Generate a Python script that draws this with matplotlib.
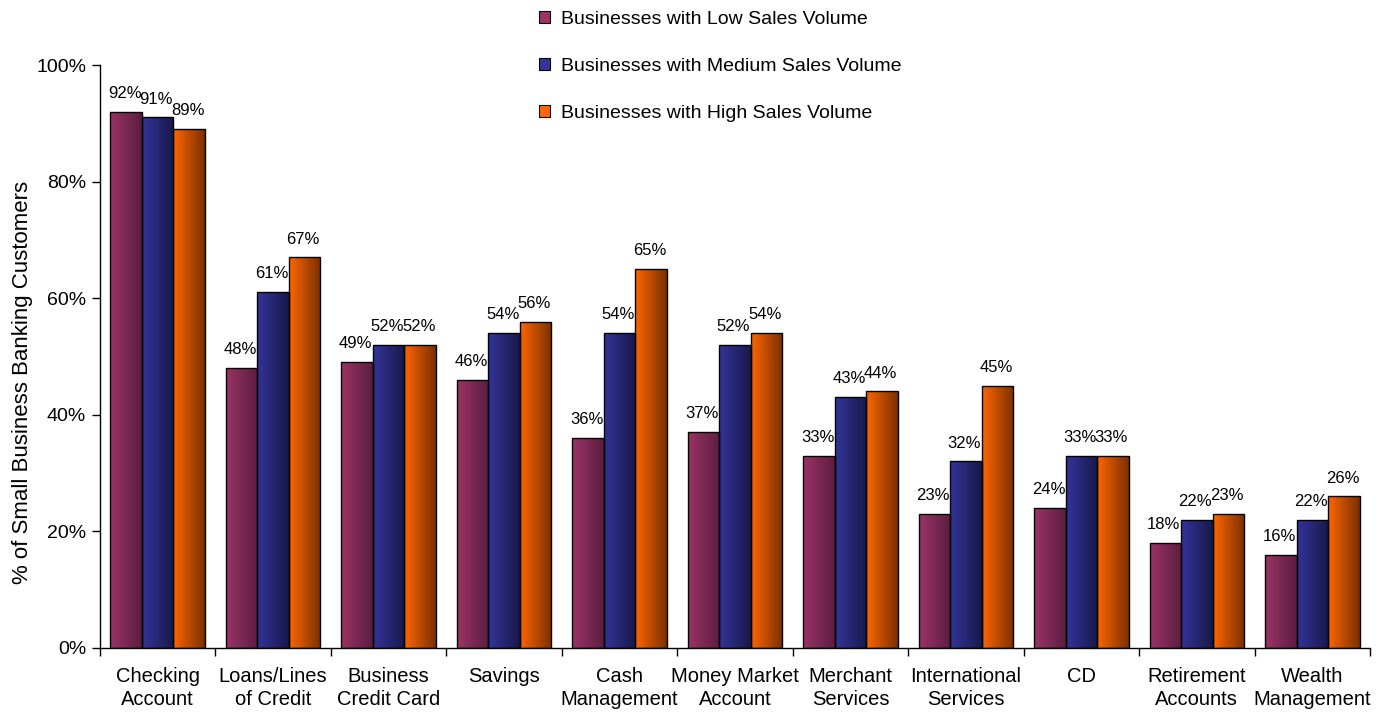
import numpy as np
import matplotlib
matplotlib.use("Agg")
import matplotlib.pyplot as plt
from matplotlib.colors import LinearSegmentedColormap
from matplotlib.patches import Patch
from matplotlib.ticker import PercentFormatter

plt.rcParams['font.family'] = ['Liberation Sans', 'DejaVu Sans']

categories = [
    "Checking\nAccount", "Loans/Lines\nof Credit", "Business\nCredit Card",
    "Savings", "Cash\nManagement", "Money Market\nAccount", "Merchant\nServices",
    "International\nServices", "CD", "Retirement\nAccounts", "Wealth\nManagement",
]
series_names = [
    "Businesses with Low Sales Volume",
    "Businesses with Medium Sales Volume",
    "Businesses with High Sales Volume",
]
low_volume = [92, 48, 49, 46, 36, 37, 33, 23, 24, 18, 16]
medium_volume = [91, 61, 52, 54, 54, 52, 43, 32, 33, 22, 22]
high_volume = [89, 67, 52, 56, 65, 54, 44, 45, 33, 23, 26]
y_label = "% of Small Business Banking Customers"

light_colors = ["#9b3466", "#34349a", "#ff6600"]
dark_colors = ["#5c1d40", "#18184a", "#7a3000"]

W, H = 1383, 713
fig = plt.figure(figsize=(W / 100, H / 100), dpi=100)
ax = fig.add_axes([100 / W, 65 / H, 1270 / W, 583 / H])

x = np.arange(len(categories))
bar_w = 0.273
ramp = np.linspace(0, 1, 256).reshape(1, -1)

for i, vals in enumerate([low_volume, medium_volume, high_volume]):
    pos = x + (i - 1) * bar_w
    bars = ax.bar(pos, vals, bar_w, facecolor="none", edgecolor="black",
                  linewidth=1.0, zorder=3)
    cmap = LinearSegmentedColormap.from_list(f"shade{i}", [light_colors[i], dark_colors[i]])
    for b in bars:
        bx, by, bw, bh = b.get_x(), b.get_y(), b.get_width(), b.get_height()
        im = ax.imshow(ramp, cmap=cmap, extent=[bx, bx + bw, by, by + bh],
                       aspect="auto", interpolation="bilinear", zorder=2)
        im.set_clip_path(b)
    for p, v in zip(pos, vals):
        ax.annotate(f"{v}%", (p, v), xytext=(-1, 10), textcoords="offset points",
                    ha="center", va="baseline", fontsize=12, color="black", zorder=4)

ax.set_xlim(-0.5, len(categories) - 0.5)
ax.set_ylim(0, 100)
ax.set_yticks(np.arange(0, 101, 20))
ax.yaxis.set_major_formatter(PercentFormatter(100, decimals=0))
ax.set_xticks(x)
ax.set_xticklabels(categories, fontsize=14.5, linespacing=1.25)
ax.set_xticks(np.arange(-0.5, len(categories), 1.0), minor=True)
ax.tick_params(axis="x", which="major", length=0, pad=14)
ax.tick_params(axis="x", which="minor", length=6, width=1, direction="out")
ax.tick_params(axis="y", length=6, width=1, direction="out", pad=4, labelsize=14)

for side in ("top", "right"):
    ax.spines[side].set_visible(False)
for side in ("left", "bottom"):
    ax.spines[side].set_linewidth(1.0)

ax.set_ylabel(y_label, fontsize=16)
ax.yaxis.set_label_coords(-0.053, 0.456)

handles = [Patch(facecolor=light_colors[i], edgecolor="black", linewidth=0.8)
           for i in range(3)]
fig.legend(handles, series_names, loc="upper left",
           bbox_to_anchor=(531 / W, 1 - 3 / H), frameon=False, fontsize=14,
           handlelength=0.6, handleheight=0.6, handletextpad=0.55,
           labelspacing=1.55, borderaxespad=0)

fig.savefig("out.png", dpi=100)
